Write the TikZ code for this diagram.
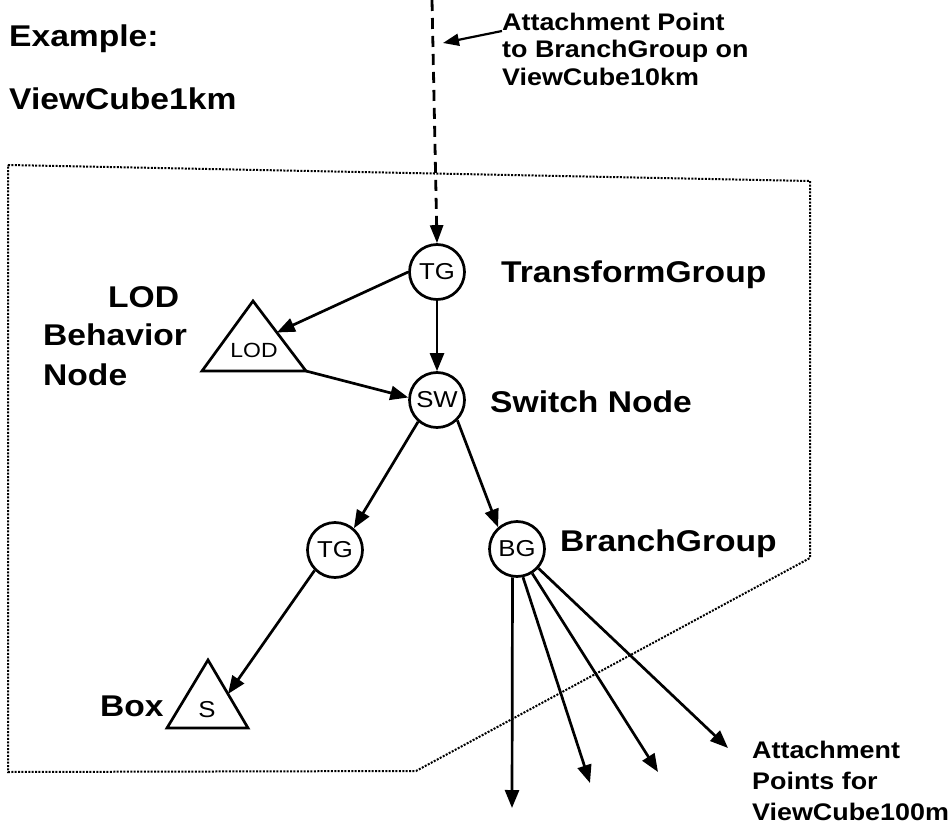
\documentclass[tikz,border=0pt]{standalone}
\usepackage{fontspec}
\setmainfont{Liberation Sans}[FakeStretch=1.12]
\usetikzlibrary{arrows.meta,calc}
\begin{document}
\begin{tikzpicture}[x=1pt,y=-1pt,
  edge/.style={line width=2.7pt,-{Triangle[length=18pt,width=14pt]}},
  gnode/.style={circle,draw,line width=2.7pt,minimum size=55pt,inner sep=0pt,font=\fontsize{23}{27}\selectfont},
  tri/.style={draw,line width=2.7pt,line join=miter},
  trilabel/.style={inner sep=0pt},
  biglabel/.style={anchor=base west,inner sep=0pt,font=\fontsize{30}{35}\selectfont\bfseries},
  smalllabel/.style={anchor=base west,inner sep=0pt,font=\fontsize{24}{28}\selectfont\bfseries},
  regionborder/.style={line width=2pt,dash pattern=on 2pt off 1.4pt},
  attachline/.style={line width=2.8pt,dash pattern=on 11pt off 7pt},
]
\useasboundingbox (0,0) rectangle (952,826);

% region border
\draw[regionborder] (8,165) -- (810,181) -- (810,558) -- (416,771) -- (8,772) -- cycle;

% graph nodes
\node[gnode] (tg1) at (437,272) {TG};
\node[gnode] (sw)  at (437,400) {SW};
\node[gnode] (tg2) at (335,550) {TG};
\node[gnode] (bg)  at (517,549) {BG};

% LOD triangle
\coordinate (lodT) at (253,301);
\coordinate (lodL) at (202,371);
\coordinate (lodR) at (306,371);
\draw[tri] (lodT) -- (lodL) -- (lodR) -- cycle;
\node[trilabel,font=\fontsize{20.5}{24}\selectfont] (lodtext) at (254,350) {LOD};

% Box triangle
\coordinate (boxT) at (208,660);
\coordinate (boxL) at (167,728);
\coordinate (boxR) at (248,728);
\draw[tri] (boxT) -- (boxL) -- (boxR) -- cycle;
\node[trilabel,font=\fontsize{23}{27}\selectfont] (boxtext) at (207,710) {S};

% labels
\node[biglabel] (ex) at (9,47) {Example:};
\node[biglabel] (vc) at (9,110) {ViewCube1km};
\node[biglabel] (tgl) at (501,282) {TransformGroup};
\node[biglabel] (swl) at (490,412) {Switch Node};
\node[biglabel] (bgl) at (560,551) {BranchGroup};
\node[biglabel] (lodl1) at (108,307) {LOD};
\node[biglabel] (lodl2) at (43,345) {Behavior};
\node[biglabel] (lodl3) at (43,385) {Node};
\node[biglabel] (boxl) at (100,716) {Box};
\node[smalllabel] (att1) at (502,31) {Attachment Point};
\node[smalllabel] (att2) at (502,58) {to BranchGroup on};
\node[smalllabel] (att3) at (502,86) {ViewCube10km};
\node[smalllabel] (ap1) at (752,758) {Attachment};
\node[smalllabel] (ap2) at (752,789) {Points for};
\node[smalllabel] (ap3) at (752,820) {ViewCube100m};

% top dashed attachment line
\coordinate (top) at (432,0);
\coordinate (dashpt) at (443,43);
\draw[attachline,-{Triangle[length=18pt,width=13pt]}] (top) -- (tg1.north);
\draw[line width=2.2pt,-{Triangle[length=16pt,width=12pt]}] (att1.base west) -- (dashpt);

% edges
\draw[edge] (tg1.west) -- ($(lodT)!0.45!(lodR)$);
\draw[edge] (tg1.south) -- (sw.north);
\draw[edge] (lodR) -- (sw.175);
\draw[edge] (sw.-131) -- (tg2.49);
\draw[edge] (sw.-45) -- (bg.131);
\draw[edge] (tg2.-135) -- ($(boxT)!0.5!(boxR)$);

% branch group attachment points
\coordinate (e1) at (512,808);
\coordinate (e2) at (590,783);
\coordinate (e3) at (658,772);
\coordinate (e4) at (728,748);
\draw[edge] (bg.-99) -- (e1);
\draw[edge] (bg.-78) -- (e2);
\draw[edge] (bg.-58) -- (e3);
\draw[edge] (bg.-42) -- (e4);
\end{tikzpicture}
\end{document}
